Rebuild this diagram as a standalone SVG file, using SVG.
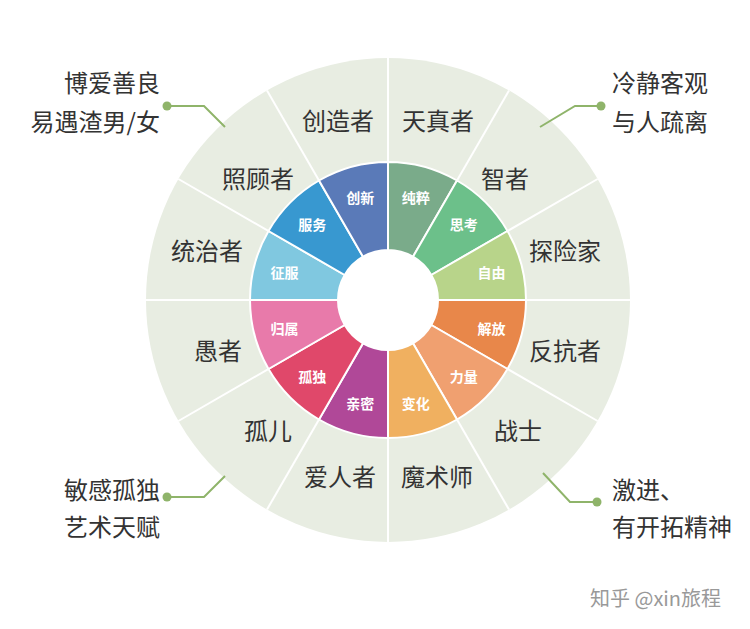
<svg xmlns="http://www.w3.org/2000/svg" width="750" height="629" viewBox="0 0 750 629">
<style>
.seg{stroke:#fff;stroke-width:2}
.in{font-family:"Noto Sans CJK SC",sans-serif;font-size:14px;font-weight:bold;fill:#fff;text-anchor:middle;dominant-baseline:central}
.out{font-family:"Noto Sans CJK SC",sans-serif;font-size:24px;fill:#333;text-anchor:middle;dominant-baseline:central}
.note{font-family:"Noto Sans CJK SC",sans-serif;font-size:24px;fill:#333}
.cl{fill:none;stroke:#8fb46a;stroke-width:2}
.dot{fill:#8fb46a}
.sp{stroke:#fff;stroke-width:2}
</style>
<rect width="750" height="629" fill="#fff"/>
<g id="outer-ring">
<circle cx="388" cy="300" r="242" fill="#e8ede2"/>
<g class="sp">
<line x1="388" y1="58" x2="388" y2="542"/>
<line x1="509" y1="90.4" x2="267" y2="509.6"/>
<line x1="597.6" y1="179" x2="178.4" y2="421"/>
<line x1="630" y1="300" x2="146" y2="300"/>
<line x1="597.6" y1="421" x2="178.4" y2="179"/>
<line x1="509" y1="509.6" x2="267" y2="90.4"/>
</g>
</g>
<g id="inner-ring">
<path class="seg" fill="#7aab8a" d="M388,162 A138,138 0 0 1 457,180.5 L413,256.7 A50,50 0 0 0 388,250Z"/>
<path class="seg" fill="#6cc08a" d="M457,180.5 A138,138 0 0 1 507.5,231 L431.3,275 A50,50 0 0 0 413,256.7Z"/>
<path class="seg" fill="#b8d48a" d="M507.5,231 A138,138 0 0 1 526,300 L438,300 A50,50 0 0 0 431.3,275Z"/>
<path class="seg" fill="#e8874a" d="M526,300 A138,138 0 0 1 507.5,369 L431.3,325 A50,50 0 0 0 438,300Z"/>
<path class="seg" fill="#f0a070" d="M507.5,369 A138,138 0 0 1 457,419.5 L413,343.3 A50,50 0 0 0 431.3,325Z"/>
<path class="seg" fill="#f0b060" d="M457,419.5 A138,138 0 0 1 388,438 L388,350 A50,50 0 0 0 413,343.3Z"/>
<path class="seg" fill="#b04898" d="M388,438 A138,138 0 0 1 319,419.5 L363,343.3 A50,50 0 0 0 388,350Z"/>
<path class="seg" fill="#e0486a" d="M319,419.5 A138,138 0 0 1 268.5,369 L344.7,325 A50,50 0 0 0 363,343.3Z"/>
<path class="seg" fill="#e87aaa" d="M268.5,369 A138,138 0 0 1 250,300 L338,300 A50,50 0 0 0 344.7,325Z"/>
<path class="seg" fill="#80c8e0" d="M250,300 A138,138 0 0 1 268.5,231 L344.7,275 A50,50 0 0 0 338,300Z"/>
<path class="seg" fill="#3898d0" d="M268.5,231 A138,138 0 0 1 319,180.5 L363,256.7 A50,50 0 0 0 344.7,275Z"/>
<path class="seg" fill="#5a7ab8" d="M319,180.5 A138,138 0 0 1 388,162 L388,250 A50,50 0 0 0 363,256.7Z"/>
<circle cx="388" cy="300" r="50" fill="#fff"/>
<text class="in" x="415.7" y="196.6">纯粹</text>
<text class="in" x="463.7" y="224.3">思考</text>
<text class="in" x="491.4" y="272.3">自由</text>
<text class="in" x="491.4" y="327.7">解放</text>
<text class="in" x="463.7" y="375.7">力量</text>
<text class="in" x="415.7" y="403.4">变化</text>
<text class="in" x="360.3" y="403.4">亲密</text>
<text class="in" x="312.3" y="375.7">孤独</text>
<text class="in" x="284.6" y="327.7">归属</text>
<text class="in" x="284.6" y="272.3">征服</text>
<text class="in" x="312.3" y="224.3">服务</text>
<text class="in" x="360.3" y="196.6">创新</text>
</g>
<g id="outer-labels">
<text class="out" x="438" y="119">天真者</text>
<text class="out" x="505" y="177">智者</text>
<text class="out" x="565" y="249">探险家</text>
<text class="out" x="565" y="349">反抗者</text>
<text class="out" x="518" y="429">战士</text>
<text class="out" x="437" y="475">魔术师</text>
<text class="out" x="340" y="475">爱人者</text>
<text class="out" x="268" y="429">孤儿</text>
<text class="out" x="218" y="349">愚者</text>
<text class="out" x="207" y="249">统治者</text>
<text class="out" x="258" y="177">照顾者</text>
<text class="out" x="338" y="119">创造者</text>
</g>
<g id="connectors">
<polyline class="cl" points="167,106 204,106 225,127"/>
<circle class="dot" cx="167" cy="106" r="4.5"/>
<polyline class="cl" points="601,106 575,106 540,127"/>
<circle class="dot" cx="601" cy="106" r="4.5"/>
<polyline class="cl" points="167,497 204,497 225,476"/>
<circle class="dot" cx="167" cy="497" r="4.5"/>
<polyline class="cl" points="543,473 570,502 597,502"/>
<circle class="dot" cx="597" cy="502" r="4.5"/>
</g>
<g id="notes">
<text class="note" x="160" y="92" text-anchor="end">博爱善良</text>
<text class="note" x="160" y="131" text-anchor="end">易遇渣男/女</text>
<text class="note" x="612" y="92">冷静客观</text>
<text class="note" x="612" y="131">与人疏离</text>
<text class="note" x="160" y="499" text-anchor="end">敏感孤独</text>
<text class="note" x="160" y="536" text-anchor="end">艺术天赋</text>
<text class="note" x="612" y="499">激进、</text>
<text class="note" x="612" y="536">有开拓精神</text>
</g>
<text x="590" y="606" font-family="Noto Sans CJK SC,sans-serif" font-size="20" fill="#999">知乎 @xin旅程</text>
</svg>
